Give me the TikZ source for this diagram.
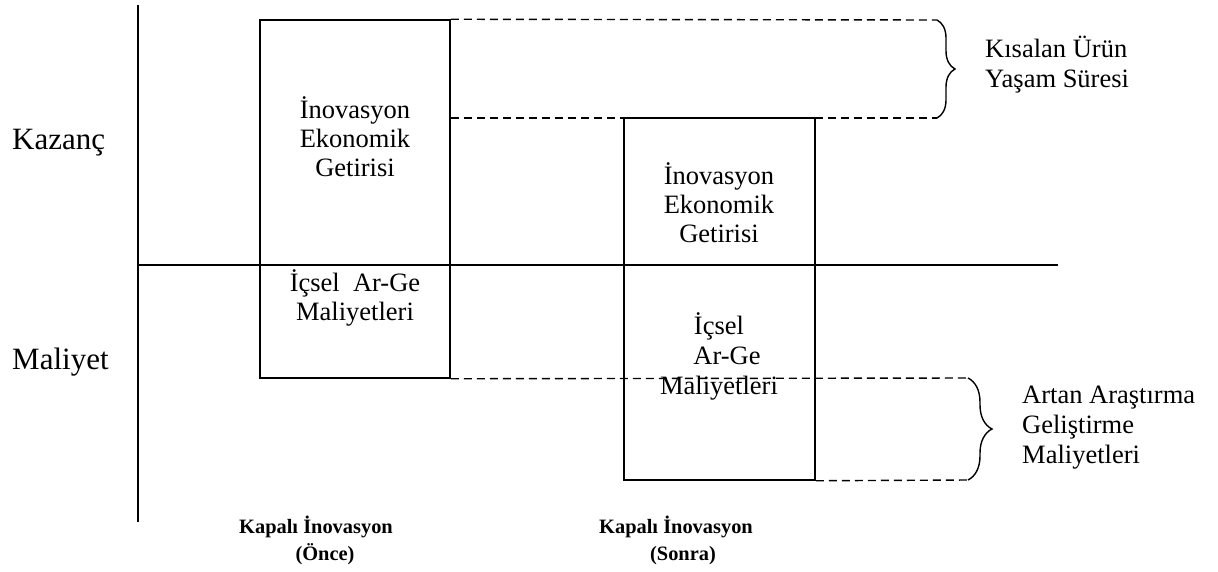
\documentclass[tikz,border=0pt]{standalone}
\usepackage{fontspec}
\setmainfont{Liberation Serif}
\usetikzlibrary{decorations.pathreplacing}
\begin{document}
\begin{tikzpicture}[x=1pt,y=-1pt,
  ln/.style={line width=1.5pt},
  dl/.style={line width=1.4pt, dash pattern=on 8pt off 5pt},
  box/.style={draw, line width=1.5pt, inner sep=0pt},
  txt/.style={align=center, font=\fontsize{26.5}{29}\selectfont, inner sep=0pt},
  side/.style={align=left, font=\fontsize{26.5}{30}\selectfont, inner sep=0pt, anchor=west},
  ax/.style={font=\fontsize{31}{34}\selectfont, inner sep=0pt, anchor=west},
  bt/.style={font=\bfseries\fontsize{20.4}{27}\selectfont, align=center, inner sep=0pt},
  br/.style={line width=1.4pt, decorate, decoration={brace, amplitude=#1}}
]
\useasboundingbox (0,0) rectangle (1218,571);
% axes
\coordinate (axT) at (138,5);
\coordinate (axB) at (138,522);
\coordinate (hL) at (138,265);
\coordinate (hR) at (1058,265);
\draw[ln] (axT) -- (axB);
\draw[ln] (hL) -- (hR);
% boxes
\node[box, minimum width=190pt, minimum height=358pt] (b1) at (355,199) {};
\node[box, minimum width=191pt, minimum height=362pt] (b2) at (719.5,299) {};
% dashed guides and braces
\coordinate (t1) at (937,20);
\coordinate (t2) at (937,118);
\coordinate (u1) at (968,378);
\coordinate (u2) at (968,480);
\draw[dl] (b1.north east) -- (t1);
\draw[dl] (b1.east |- t2) -- (t2);
\draw[dl] (b1.south east) -- (u1);
\draw[dl] (b2.south east) -- (u2);
\draw[br=18pt] (t1) -- (t2);
\draw[br=24pt] (u1) -- (u2);
% axis labels
\node[ax] (kaz) at (12,143) {Kazanç};
\node[ax] (mal) at (12,362) {Maliyet};
% box texts
\node[txt] (b1u) at (355,137) {İnovasyon\\Ekonomik\\Getirisi};
\node[txt] (b1l) at (355,298) {İçsel~~Ar-Ge\\Maliyetleri};
\node[txt] (b2u) at (719,203) {İnovasyon\\Ekonomik\\Getirisi};
\node[txt, font=\fontsize{26.5}{30}\selectfont] (b2l) at (719,356) {İçsel\\\hspace*{16pt}Ar-Ge\\Maliyetleri};
% side texts
\node[side] (s1) at (985,65) {Kısalan Ürün\\Yaşam Süresi};
\node[side] (s2) at (1022,428) {Artan Araştırma\\Geliştirme\\Maliyetleri};
% bottom labels
\node[bt] (l1) at (316,540) {Kapalı İnovasyon\\\hspace*{18pt}(Önce)};
\node[bt] (l2) at (676,540) {Kapalı İnovasyon\\\hspace*{14pt}(Sonra)};
\end{tikzpicture}
\end{document}
